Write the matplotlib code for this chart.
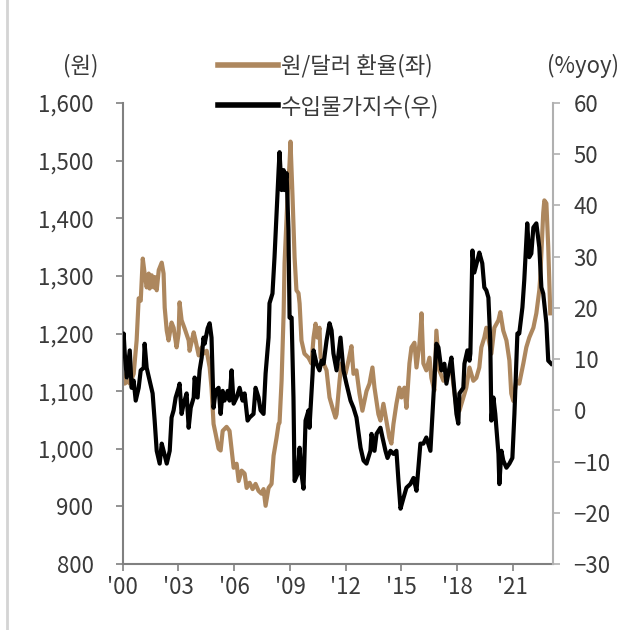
import matplotlib
matplotlib.use('Agg')
import matplotlib.pyplot as plt
from matplotlib.lines import Line2D
from matplotlib.ticker import FuncFormatter

plt.rcParams['font.family'] = ['Noto Sans CJK KR', 'DejaVu Sans']
plt.rcParams['font.weight'] = 'light'

# 원/달러 환율 (left axis, 원)
fx_year = [2000.00, 2000.11, 2000.32, 2000.38, 2000.59, 2000.75, 2000.86, 2000.97,
           2001.08, 2001.18, 2001.29, 2001.40, 2001.45, 2001.56, 2001.67, 2001.72,
           2001.83, 2001.94, 2002.10, 2002.20, 2002.26, 2002.37, 2002.47, 2002.53,
           2002.63, 2002.74, 2002.90, 2003.01, 2003.06, 2003.17, 2003.33, 2003.55,
           2003.60, 2003.82, 2003.92, 2004.09, 2004.25, 2004.35, 2004.52, 2004.68,
           2004.78, 2004.89, 2005.00, 2005.16, 2005.27, 2005.38, 2005.59, 2005.75,
           2005.97, 2006.13, 2006.24, 2006.40, 2006.56, 2006.67, 2006.83, 2006.99,
           2007.15, 2007.31, 2007.47, 2007.58, 2007.69, 2007.85, 2008.01, 2008.12,
           2008.28, 2008.39, 2008.44, 2008.55, 2008.66, 2008.71, 2008.87, 2008.98,
           2009.03, 2009.14, 2009.25, 2009.35, 2009.46, 2009.52, 2009.62, 2009.78,
           2010.00, 2010.16, 2010.27, 2010.38, 2010.48, 2010.59, 2010.65, 2010.81,
           2010.97, 2011.13, 2011.29, 2011.45, 2011.51, 2011.67, 2011.77, 2011.88,
           2011.99, 2012.15, 2012.31, 2012.42, 2012.58, 2012.74, 2012.90, 2013.12,
           2013.28, 2013.44, 2013.55, 2013.76, 2013.87, 2014.03, 2014.19, 2014.35,
           2014.46, 2014.57, 2014.73, 2014.89, 2015.00, 2015.16, 2015.27, 2015.43,
           2015.54, 2015.70, 2015.81, 2015.97, 2016.08, 2016.18, 2016.34, 2016.51,
           2016.61, 2016.77, 2016.88, 2017.04, 2017.26, 2017.53, 2017.69, 2017.80,
           2017.96, 2018.12, 2018.49, 2018.66, 2018.87, 2019.03, 2019.19, 2019.30,
           2019.46, 2019.57, 2019.84, 2020.00, 2020.22, 2020.32, 2020.48, 2020.65,
           2020.81, 2020.91, 2021.02, 2021.18, 2021.34, 2021.56, 2021.72, 2021.88,
           2022.10, 2022.26, 2022.42, 2022.47, 2022.63, 2022.69, 2022.80, 2022.90,
           2023.01]
fx_rate = [1130, 1113, 1118, 1113, 1130, 1188, 1261, 1257,
           1330, 1304, 1280, 1304, 1278, 1301, 1280, 1298,
           1275, 1310, 1323, 1304, 1245, 1205, 1188, 1200,
           1219, 1210, 1176, 1200, 1254, 1223, 1209, 1188,
           1170, 1202, 1188, 1162, 1176, 1165, 1170, 1141,
           1106, 1043, 1026, 1000, 997, 1031, 1038, 1031,
           967, 974, 944, 962, 957, 932, 941, 930,
           939, 927, 922, 930, 901, 932, 939, 988,
           1019, 1043, 1045, 1118, 1235, 1322, 1437, 1496,
           1533, 1437, 1332, 1275, 1270, 1252, 1188, 1165,
           1158, 1148, 1193, 1217, 1193, 1210, 1158, 1148,
           1136, 1089, 1071, 1054, 1060, 1118, 1148, 1136,
           1130, 1153, 1178, 1130, 1136, 1096, 1066, 1100,
           1113, 1141, 1106, 1060, 1049, 1078, 1049, 1019,
           1009, 1043, 1078, 1106, 1089, 1106, 1071, 1148,
           1176, 1184, 1141, 1182, 1235, 1148, 1136, 1158,
           1123, 1101, 1205, 1136, 1118, 1130, 1141, 1110,
           1071, 1066, 1106, 1141, 1118, 1123, 1141, 1176,
           1193, 1210, 1165, 1210, 1223, 1237, 1205, 1188,
           1153, 1096, 1083, 1118, 1113, 1148, 1176, 1193,
           1210, 1235, 1275, 1297, 1409, 1431, 1426, 1350,
           1235]

# 수입물가지수 (right axis, %yoy)
imp_year = [2000.00, 2000.05, 2000.11, 2000.22, 2000.38, 2000.48, 2000.59, 2000.70,
            2000.86, 2000.97, 2001.13, 2001.18, 2001.29, 2001.45, 2001.61, 2001.72,
            2001.83, 2001.99, 2002.10, 2002.20, 2002.37, 2002.53, 2002.63, 2002.74,
            2002.85, 2003.01, 2003.06, 2003.17, 2003.28, 2003.44, 2003.55, 2003.66,
            2003.82, 2003.87, 2004.03, 2004.14, 2004.25, 2004.35, 2004.41, 2004.57,
            2004.68, 2004.78, 2004.89, 2005.00, 2005.16, 2005.27, 2005.38, 2005.48,
            2005.65, 2005.75, 2005.86, 2005.97, 2006.13, 2006.29, 2006.45, 2006.56,
            2006.72, 2006.83, 2007.04, 2007.15, 2007.31, 2007.42, 2007.58, 2007.69,
            2007.85, 2007.90, 2008.06, 2008.17, 2008.28, 2008.39, 2008.44, 2008.55,
            2008.66, 2008.71, 2008.82, 2008.92, 2008.98, 2009.09, 2009.19, 2009.25,
            2009.41, 2009.52, 2009.62, 2009.73, 2009.84, 2010.00, 2010.05, 2010.22,
            2010.27, 2010.43, 2010.59, 2010.70, 2010.81, 2010.97, 2011.13, 2011.24,
            2011.34, 2011.51, 2011.72, 2011.88, 2012.04, 2012.26, 2012.42, 2012.58,
            2012.80, 2012.96, 2013.12, 2013.33, 2013.39, 2013.55, 2013.66, 2013.87,
            2013.98, 2014.14, 2014.25, 2014.41, 2014.57, 2014.73, 2014.84, 2014.95,
            2015.11, 2015.27, 2015.48, 2015.65, 2015.81, 2016.02, 2016.18, 2016.34,
            2016.56, 2016.72, 2016.88, 2016.99, 2017.15, 2017.31, 2017.42, 2017.58,
            2017.69, 2017.80, 2017.96, 2018.06, 2018.12, 2018.33, 2018.39, 2018.55,
            2018.66, 2018.71, 2018.82, 2018.92, 2019.09, 2019.19, 2019.35, 2019.46,
            2019.57, 2019.68, 2019.78, 2019.84, 2019.95, 2020.05, 2020.22, 2020.27,
            2020.38, 2020.48, 2020.65, 2020.81, 2020.97, 2021.08, 2021.24, 2021.34,
            2021.51, 2021.61, 2021.77, 2021.88, 2021.99, 2022.10, 2022.26, 2022.42,
            2022.53, 2022.63, 2022.80, 2022.90, 2023.06]
imp_yoy = [11.7, 15.0, 11.1, 6.4, 11.7, 4.4, 5.8, 1.9,
           4.4, 7.8, 8.3, 13.0, 8.3, 5.8, 3.3, -2.0,
           -7.9, -10.4, -6.5, -7.9, -10.4, -7.9, -1.4, 0.0,
           2.5, 4.4, 5.2, -0.7, 1.3, 3.3, -3.4, 0.5,
           2.5, 6.4, 2.5, 7.8, 10.3, 14.2, 13.0, 16.0,
           17.0, 14.2, 0.5, 3.8, 4.4, -0.7, 3.8, 1.9,
           3.8, 1.9, 7.8, 1.3, 2.5, 4.4, 1.9, 3.3,
           -2.0, -1.4, -0.7, 4.4, 2.5, 0.0, -0.7, 7.2,
           14.2, 20.9, 22.8, 29.9, 38.5, 46.9, 50.4, 43.0,
           46.9, 43.0, 46.3, 35.2, 18.1, 18.1, 2.5, -13.8,
           -12.4, -7.3, -12.4, -15.3, -2.0, 0.0, -3.4, 7.2,
           11.7, 9.1, 7.8, 9.7, 9.1, 13.6, 17.0, 15.6,
           11.1, 7.8, 14.2, 7.8, 5.2, 1.9, 0.5, -1.4,
           -7.3, -9.8, -10.4, -7.9, -4.6, -7.9, -4.6, -3.4,
           -5.3, -7.9, -9.3, -7.9, -8.5, -7.9, -13.8, -19.2,
           -17.1, -15.1, -14.4, -13.2, -15.7, -6.5, -6.5, -5.3,
           -7.9, 2.5, 13.0, 12.3, 7.8, 9.1, 5.2, 8.3,
           10.3, 5.8, -0.7, -2.6, 3.3, 4.4, 9.1, 11.7,
           9.7, 11.1, 31.2, 26.9, 29.3, 30.8, 28.7, 24.0,
           23.4, 22.0, 13.6, -2.0, 2.5, -0.7, -8.5, -14.4,
           -7.9, -9.8, -11.2, -10.4, -9.3, -0.7, 15.0, 15.0,
           20.1, 25.4, 36.5, 29.9, 30.6, 35.7, 36.5, 31.8,
           24.0, 22.8, 17.0, 9.7, 9.1]

x_ticks = [2000, 2003, 2006, 2009, 2012, 2015, 2018, 2021]
x_labels = ["'00", "'03", "'06", "'09", "'12", "'15", "'18", "'21"]
left_ticks = [800, 900, 1000, 1100, 1200, 1300, 1400, 1500, 1600]
right_ticks = [-30, -20, -10, 0, 10, 20, 30, 40, 50, 60]

brown = '#AD875E'
text_color = '#3a3a3a'

fig = plt.figure(figsize=(6.35, 6.3), dpi=100)
ax = fig.add_axes([122.7 / 635, 1 - 564 / 630, (552.7 - 122.7) / 635, (564 - 103) / 630])
ax2 = ax.twinx()

ax.plot(fx_year, fx_rate, color=brown, lw=3.0, solid_joinstyle='round', label='원/달러 환율(좌)')
ax2.plot(imp_year, imp_yoy, color='black', lw=3.0, solid_joinstyle='round', label='수입물가지수(우)')

ax.set_xlim(2000, 2023.14)
ax.set_ylim(800, 1600)
ax2.set_ylim(-30, 60)
ax.set_xticks(x_ticks)
ax.set_xticklabels(x_labels)
ax.set_yticks(left_ticks)
ax.yaxis.set_major_formatter(FuncFormatter(lambda v, p: f'{v:,.0f}'))
ax2.set_yticks(right_ticks)

for a in (ax, ax2):
    a.spines['top'].set_visible(False)
ax.spines['right'].set_visible(False)
ax.spines['left'].set_color('#808080')
ax.spines['bottom'].set_color('#808080')
ax2.spines['left'].set_visible(False)
ax2.spines['bottom'].set_visible(False)
ax2.spines['right'].set_color('#b0b0b0')
for s in ('left', 'bottom'):
    ax.spines[s].set_linewidth(1.5)
ax2.spines['right'].set_linewidth(1.5)

ax.tick_params(axis='y', direction='out', length=5, width=1.2, color='#808080',
               labelsize=16, labelcolor=text_color, pad=16)
ax.tick_params(axis='x', direction='out', length=5, width=1.2, color='#808080',
               labelsize=16, labelcolor=text_color, pad=4)
ax2.tick_params(axis='y', direction='out', length=5, width=1.2, color='#b0b0b0',
                labelsize=16, labelcolor=text_color, pad=10)

fig.text(81 / 635, 1 - 66 / 630, '(원)', ha='center', va='center', fontsize=16, color=text_color)
fig.text(583 / 635, 1 - 66 / 630, '(%yoy)', ha='center', va='center', fontsize=16, color=text_color)

handles = [Line2D([], [], color=brown, lw=4), Line2D([], [], color='black', lw=4)]
fig.legend(handles, ['원/달러 환율(좌)', '수입물가지수(우)'], loc='upper left',
           bbox_to_anchor=(218 / 635, 1 - 54 / 630), frameon=False, fontsize=16,
           handlelength=2.7, handletextpad=0.15, labelspacing=0.75, borderpad=0,
           borderaxespad=0, labelcolor=text_color)

# thin frame line at the left edge of the picture
fig.add_artist(Line2D([7 / 635, 7 / 635], [0, 1], color='#d4d4d4', lw=2))

fig.savefig('out.png', dpi=100)
